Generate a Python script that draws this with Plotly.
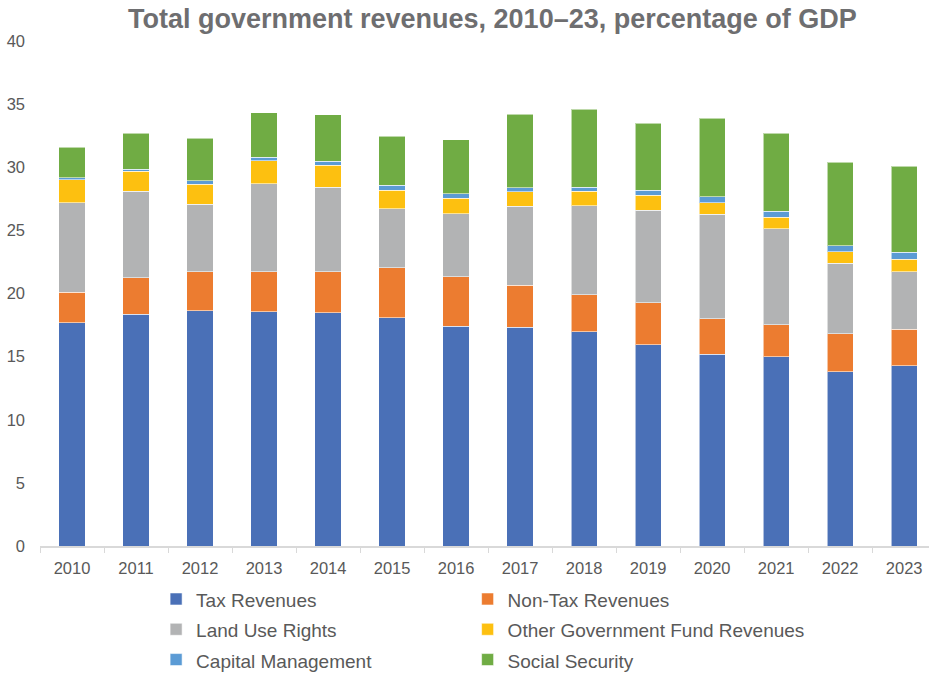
import plotly.graph_objects as go

years = ["2010", "2011", "2012", "2013", "2014", "2015", "2016",
         "2017", "2018", "2019", "2020", "2021", "2022", "2023"]

tax_revenues = [17.70, 18.34, 18.62, 18.57, 18.46, 18.07, 17.41,
                17.31, 16.96, 15.96, 15.17, 14.98, 13.79, 14.29]
non_tax_revenues = [2.40, 2.90, 3.09, 3.14, 3.25, 3.96, 3.91,
                    3.35, 2.93, 3.30, 2.82, 2.56, 3.04, 2.86]
land_use_rights = [7.10, 6.84, 5.34, 6.97, 6.69, 4.70, 4.99,
                   6.26, 7.08, 7.32, 8.27, 7.58, 5.55, 4.59]
other_fund_revenues = [1.82, 1.61, 1.61, 1.83, 1.77, 1.43, 1.24,
                       1.13, 1.11, 1.21, 0.92, 0.93, 0.92, 0.98]
capital_management = [0.13, 0.16, 0.29, 0.29, 0.29, 0.40, 0.37,
                      0.32, 0.32, 0.40, 0.47, 0.47, 0.50, 0.53]
social_security = [2.44, 2.85, 3.33, 3.51, 3.69, 3.88, 4.25,
                   5.81, 6.18, 5.28, 6.22, 6.18, 6.60, 6.84]

# (name, values, colour, legend column)
series = [
    ("Tax Revenues", tax_revenues, "#4A70B7", "legend"),
    ("Non-Tax Revenues", non_tax_revenues, "#EC7C30", "legend2"),
    ("Land Use Rights", land_use_rights, "#B2B3B4", "legend"),
    ("Other Government Fund Revenues", other_fund_revenues, "#FDC010", "legend2"),
    ("Capital Management", capital_management, "#5B9BD5", "legend"),
    ("Social Security", social_security, "#70AC44", "legend2"),
]

FONT = "Liberation Sans, Arial, sans-serif"

fig = go.Figure()
for name, values, color, legend_id in series:
    fig.add_trace(go.Bar(
        x=years,
        y=values,
        # legend rows are spaced by the legend font; the label itself is 19px
        name=f'<span style="font-size:19px">{name}</span>',
        legend=legend_id,
        marker=dict(color=color, line=dict(color="rgba(255,255,255,0.55)", width=1)),
    ))

legend_style = dict(
    orientation="v",
    y=-0.065, yanchor="top",
    font=dict(size=21, color="#595959"),
    traceorder="normal",
    bgcolor="rgba(0,0,0,0)",
)

fig.update_layout(
    width=929,
    height=673,
    barmode="stack",
    bargap=0.59,
    paper_bgcolor="white",
    plot_bgcolor="white",
    margin=dict(l=40, r=0, t=41, b=127, autoexpand=False),
    title=dict(
        text="<b>Total government revenues, 2010–23, percentage of GDP</b>",
        x=0.53, xanchor="center", y=0.973, yanchor="middle",
        font=dict(family=FONT, size=27, color="#6E6E70"),
    ),
    font=dict(family=FONT, color="#595959"),
    xaxis=dict(
        type="category",
        range=[-0.5, 13.3875],
        showline=True, linecolor="#D9D9D9", linewidth=1.5,
        ticks="outside", tickson="boundaries", ticklen=5, tickcolor="#D9D9D9",
        ticklabelstandoff=6,
        tickfont=dict(size=16.5, color="#595959"),
        showgrid=False,
    ),
    yaxis=dict(
        range=[0, 40], dtick=5,
        showgrid=False, zeroline=False, showline=False,
        ticks="", ticklabelstandoff=14,
        tickfont=dict(size=16.5, color="#595959"),
    ),
    showlegend=True,
    legend=dict(x=0.1306, xanchor="left", **legend_style),
    legend2=dict(x=0.481, xanchor="left", **legend_style),
)

fig.write_html("out.html")
